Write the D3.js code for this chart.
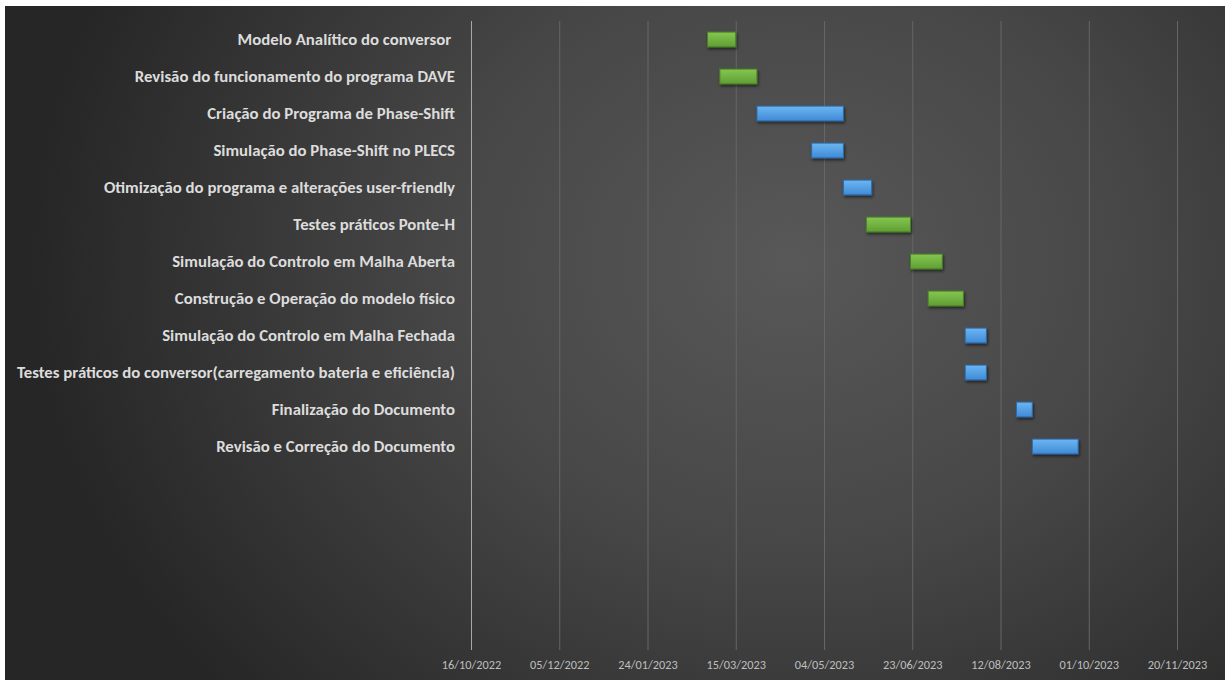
<!DOCTYPE html>
<html>
<head>
<meta charset="utf-8">
<script src="https://cdn.jsdelivr.net/npm/d3@7/dist/d3.min.js"></script>
<style>
  html, body { margin: 0; padding: 0; background: #ffffff; }
  svg { display: block; }
</style>
</head>
<body>
<svg id="chart" width="1225" height="680"></svg>
<script>
// Project schedule (Gantt) — one row per task
const tasks = [
  "Modelo Analítico do conversor ",
  "Revisão do funcionamento do programa DAVE",
  "Criação do Programa de Phase-Shift",
  "Simulação do Phase-Shift no PLECS",
  "Otimização do programa e alterações user-friendly",
  "Testes práticos Ponte-H",
  "Simulação do Controlo em Malha Aberta",
  "Construção e Operação do modelo físico",
  "Simulação do Controlo em Malha Fechada",
  "Testes práticos do conversor(carregamento bateria e eficiência)",
  "Finalização do Documento",
  "Revisão e Correção do Documento"
];
const startDates = [
  "27/02/2023", "06/03/2023", "27/03/2023", "27/04/2023",
  "15/05/2023", "28/05/2023", "22/06/2023", "02/07/2023",
  "23/07/2023", "23/07/2023", "21/08/2023", "30/08/2023"
];
const endDates = [
  "15/03/2023", "27/03/2023", "15/05/2023", "15/05/2023",
  "31/05/2023", "22/06/2023", "10/07/2023", "22/07/2023",
  "04/08/2023", "04/08/2023", "30/08/2023", "25/09/2023"
];
const taskGroup = [
  "green", "green", "blue", "blue", "blue", "green",
  "green", "green", "blue", "blue", "blue", "blue"
];
// unused trailing rows kept in the category axis
const blankRows = 5;
const tickLabels = [
  "16/10/2022", "05/12/2022", "24/01/2023", "15/03/2023", "04/05/2023",
  "23/06/2023", "12/08/2023", "01/10/2023", "20/11/2023"
];

const parse = d3.utcParse("%d/%m/%Y");
const svg = d3.select("#chart");
const W = 1225, H = 680;

const defs = svg.append("defs");

// chart area background: dark radial gradient
const bg = defs.append("radialGradient")
  .attr("id", "bgGrad")
  .attr("gradientUnits", "userSpaceOnUse")
  .attr("cx", 790).attr("cy", 260).attr("r", 760)
  .attr("gradientTransform", "translate(790,260) scale(1,0.85) translate(-790,-260)");
bg.append("stop").attr("offset", "0%").attr("stop-color", "#585858");
bg.append("stop").attr("offset", "45%").attr("stop-color", "#474747");
bg.append("stop").attr("offset", "100%").attr("stop-color", "#262626");

const palettes = {
  green: { top: "#85c651", bottom: "#5f9f33", stroke: "#4b8027" },
  blue:  { top: "#6db6f2", bottom: "#3f8ad6", stroke: "#2e6aa8" }
};
Object.entries(palettes).forEach(([k, p]) => {
  const g = defs.append("linearGradient").attr("id", "bar-" + k)
    .attr("x1", 0).attr("y1", 0).attr("x2", 0).attr("y2", 1);
  g.append("stop").attr("offset", "0%").attr("stop-color", p.top);
  g.append("stop").attr("offset", "100%").attr("stop-color", p.bottom);
});

const shadow = defs.append("filter").attr("id", "barShadow")
  .attr("x", "-20%").attr("y", "-40%").attr("width", "150%").attr("height", "200%");
shadow.append("feDropShadow")
  .attr("dx", 1).attr("dy", 2).attr("stdDeviation", 1.4)
  .attr("flood-color", "#000").attr("flood-opacity", 0.55);

svg.append("rect")
  .attr("x", 5).attr("y", 6)
  .attr("width", W - 5).attr("height", H - 6)
  .attr("fill", "url(#bgGrad)");

// scales
const x = d3.scaleUtc()
  .domain([parse(tickLabels[0]), parse(tickLabels[tickLabels.length - 1])])
  .range([471, 1177]);

const rowIds = d3.range(tasks.length + blankRows);
const y = d3.scaleBand()
  .domain(rowIds)
  .range([21, 650])
  .paddingInner(0.6)
  .paddingOuter(0.3);

// vertical gridlines
const tickDates = tickLabels.map(parse);
svg.append("g")
  .selectAll("line")
  .data(tickDates)
  .join("line")
  .attr("x1", d => x(d) + 0.5).attr("x2", d => x(d) + 0.5)
  .attr("y1", 21).attr("y2", 650)
  .attr("stroke", (d, i) => i === 0 ? "#a8a8a8" : "#666666")
  .attr("stroke-width", 1);

// date axis labels
const xAxis = d3.axisBottom(x)
  .tickValues(tickDates)
  .tickFormat(d3.utcFormat("%d/%m/%Y"))
  .tickSize(0)
  .tickPadding(10);
const gx = svg.append("g")
  .attr("transform", "translate(0,650)")
  .call(xAxis);
gx.select(".domain").remove();
gx.selectAll("text")
  .attr("fill", "#bfbfbf")
  .style("font-family", "Carlito, Lato, 'Liberation Sans', sans-serif")
  .style("font-size", "12.3px");

// task labels (trailing spaces kept as typed)
svg.append("g")
  .selectAll("text")
  .data(tasks)
  .join("text")
  .attr("x", 455)
  .attr("y", (d, i) => y(i) + y.bandwidth() / 2)
  .attr("text-anchor", "end")
  .attr("dominant-baseline", "central")
  .attr("fill", "#dcdcdc")
  .style("white-space", "pre")
  .style("font-family", "Carlito, Lato, 'Liberation Sans', sans-serif")
  .style("font-weight", "700")
  .style("font-size", "16.8px")
  .text(d => d);

// task bars
svg.append("g")
  .selectAll("rect")
  .data(tasks.map((t, i) => ({
    i, start: parse(startDates[i]), end: parse(endDates[i]), group: taskGroup[i]
  })))
  .join("rect")
  .attr("x", d => x(d.start))
  .attr("y", d => y(d.i))
  .attr("width", d => x(d.end) - x(d.start))
  .attr("height", y.bandwidth())
  .attr("fill", d => "url(#bar-" + d.group + ")")
  .attr("stroke", d => palettes[d.group].stroke)
  .attr("stroke-width", 1)
  .attr("filter", "url(#barShadow)");
</script>
</body>
</html>
